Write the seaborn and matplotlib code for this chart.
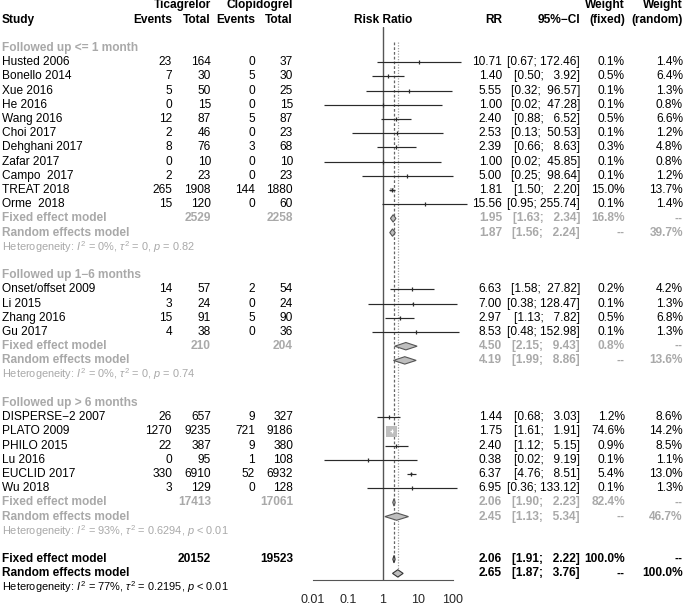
import numpy as np
import pandas as pd
import matplotlib
matplotlib.use("Agg")
import matplotlib.pyplot as plt
import seaborn as sns

# ---------------------------------------------------------
# data
# ---------------------------------------------------------
subgroups = ["Followed up <= 1 month", "Followed up 1\u22126 months", "Followed up > 6 months"]

studies = ["Husted 2006", "Bonello 2014", "Xue 2016", "He 2016", "Wang 2016", "Choi 2017",
           "Dehghani 2017", "Zafar 2017", "Campo  2017", "TREAT 2018", "Orme  2018",
           "Onset/offset 2009", "Li 2015", "Zhang 2016", "Gu 2017",
           "DISPERSE\u22122 2007", "PLATO 2009", "PHILO 2015", "Lu 2016", "EUCLID 2017", "Wu 2018"]
group_idx = [0] * 11 + [1] * 4 + [2] * 6

tic_events = [23, 7, 5, 0, 12, 2, 8, 0, 2, 265, 15, 14, 3, 15, 4, 26, 1270, 22, 0, 330, 3]
tic_total = [164, 30, 50, 15, 87, 46, 76, 10, 23, 1908, 120, 57, 24, 91, 38, 657, 9235, 387, 95, 6910, 129]
clo_events = [0, 5, 0, 0, 5, 0, 3, 0, 0, 144, 0, 2, 0, 5, 0, 9, 721, 9, 1, 52, 0]
clo_total = [37, 30, 25, 15, 87, 23, 68, 10, 23, 1880, 60, 54, 24, 90, 36, 327, 9186, 380, 108, 6932, 128]

rr = [10.71, 1.40, 5.55, 1.00, 2.40, 2.53, 2.39, 1.00, 5.00, 1.81, 15.56,
      6.63, 7.00, 2.97, 8.53, 1.44, 1.75, 2.40, 0.38, 6.37, 6.95]
rr_lo = [0.67, 0.50, 0.32, 0.02, 0.88, 0.13, 0.66, 0.02, 0.25, 1.50, 0.95,
         1.58, 0.38, 1.13, 0.48, 0.68, 1.61, 1.12, 0.02, 4.76, 0.36]
rr_hi = [172.46, 3.92, 96.57, 47.28, 6.52, 50.53, 8.63, 45.85, 98.64, 2.20, 255.74,
         27.82, 128.47, 7.82, 152.98, 3.03, 1.91, 5.15, 9.19, 8.51, 133.12]
w_fixed = [0.1, 0.5, 0.1, 0.1, 0.5, 0.1, 0.3, 0.1, 0.1, 15.0, 0.1,
           0.2, 0.1, 0.5, 0.1, 1.2, 74.6, 0.9, 0.1, 5.4, 0.1]
w_random = [1.4, 6.4, 1.3, 0.8, 6.6, 1.2, 4.8, 0.8, 1.2, 13.7, 1.4,
            4.2, 1.3, 6.8, 1.3, 8.6, 14.2, 8.5, 1.1, 13.0, 1.3]

sub_tic_total = [2529, 210, 17413]
sub_clo_total = [2258, 204, 17061]
sub_fixed = [1.95, 4.50, 2.06]
sub_fixed_lo = [1.63, 2.15, 1.90]
sub_fixed_hi = [2.34, 9.43, 2.23]
sub_random = [1.87, 4.19, 2.45]
sub_random_lo = [1.56, 1.99, 1.13]
sub_random_hi = [2.24, 8.86, 5.34]
sub_w_fixed = [16.8, 0.8, 82.4]
sub_w_random = [39.7, 13.6, 46.7]
sub_het = [r"$I^2$ = 0%, $\tau^2$ = 0, $p$ = 0.82",
           r"$I^2$ = 0%, $\tau^2$ = 0, $p$ = 0.74",
           r"$I^2$ = 93%, $\tau^2$ = 0.6294, $p$ < 0.01"]

all_tic_total = 20152
all_clo_total = 19523
all_fixed, all_fixed_lo, all_fixed_hi = 2.06, 1.91, 2.22
all_random, all_random_lo, all_random_hi = 2.65, 1.87, 3.76
all_het = r"$I^2$ = 77%, $\tau^2$ = 0.2195, $p$ < 0.01"

x_ticks = [0.01, 0.1, 1, 10, 100]
x_tick_labels = ["0.01", "0.1", "1", "10", "100"]

# ---------------------------------------------------------
# style
# ---------------------------------------------------------
sns.set_style("white")
plt.rcParams['font.family'] = ['Liberation Sans', 'DejaVu Sans']
plt.rcParams['mathtext.fontset'] = 'custom'
plt.rcParams['mathtext.rm'] = 'Liberation Sans'
plt.rcParams['mathtext.it'] = 'Liberation Sans:italic'
plt.rcParams['mathtext.bf'] = 'Liberation Sans:bold'

FS = 8.6
FS_HET = 7.9
GREY_TXT = '#A9A9A9'
SQ_COL = '#BEBEBE'

W, H = 685, 607
ROW0, ROW_H = 48, 14.2          # pixel y of row 0, row height in px


def px_to_row(py):
    return (py - ROW0) / ROW_H


def fmt_ci(lo, hi):
    return f"[{lo:.2f}; {hi:6.2f}]"


def fmt_w(w):
    return "--" if w is None else f"{w:.1f}%"


# ---------------------------------------------------------
# row layout
# ---------------------------------------------------------
df = pd.DataFrame(dict(study=studies, group=group_idx, te=tic_events, tt=tic_total,
                       ce=clo_events, ct=clo_total, rr=rr, lo=rr_lo, hi=rr_hi,
                       wf=w_fixed, wr=w_random))
df['row'] = 0
sub_rows = []
r = 0
for g in range(len(subgroups)):
    head = r
    r += 1
    idx = df.index[df['group'] == g]
    df.loc[idx, 'row'] = np.arange(r, r + len(idx))
    r += len(idx)
    sub_rows.append((head, r, r + 1, r + 2))
    r += 4
all_rows = (r, r + 1, r + 2)

fig = plt.figure(figsize=(W / 100, H / 100), dpi=100)

# text layer, x in pixels, y in rows
tax = fig.add_axes([0, 0, 1, 1])
tax.set_xlim(0, W)
tax.set_ylim(px_to_row(H), px_to_row(0))
tax.axis('off')

X_STUDY, X_TE, X_TT, X_CE, X_CT = 2, 172, 211, 255, 293
X_RR, X_CI, X_WF, X_WR = 502, 580, 625, 683


def put(x, y, s, ha='right', color='black', weight='normal', size=FS):
    tax.text(x, y, s, ha=ha, va='center', color=color, fontweight=weight, fontsize=size)


# headers
put(X_TT, -3, "Ticagrelor", weight='bold')
put(X_CT, -3, "Clopidogrel", weight='bold')
put(X_STUDY, -2, "Study", ha='left', weight='bold')
for xx, lab in [(X_TE, "Events"), (X_TT, "Total"), (X_CE, "Events"), (X_CT, "Total")]:
    put(xx, -2, lab, weight='bold')
put(383, -2, "Risk Ratio", ha='center', weight='bold')
put(X_RR, -2, "RR", weight='bold')
put(X_CI, -2, "95%\u2212CI", weight='bold')
put(X_WF, -3, "Weight", weight='bold')
put(X_WF, -2, "(fixed)", weight='bold')
put(X_WR, -3, "Weight", weight='bold')
put(X_WR, -2, "(random)", weight='bold')

# study rows
for _, s in df.iterrows():
    y = s['row']
    put(X_STUDY, y, s['study'], ha='left')
    put(X_TE, y, str(s['te']))
    put(X_TT, y, str(s['tt']))
    put(X_CE, y, str(s['ce']))
    put(X_CT, y, str(s['ct']))
    put(X_RR, y, f"{s['rr']:.2f}")
    put(X_CI, y, fmt_ci(s['lo'], s['hi']))
    put(X_WF, y, fmt_w(s['wf']))
    put(X_WR, y, fmt_w(s['wr']))

# subgroup rows
for g, (head, rf, rrn, rh) in enumerate(sub_rows):
    put(X_STUDY, head, subgroups[g], ha='left', color=GREY_TXT, weight='bold')
    put(X_STUDY, rf, "Fixed effect model", ha='left', color=GREY_TXT, weight='bold')
    put(X_TT, rf, str(sub_tic_total[g]), color=GREY_TXT, weight='bold')
    put(X_CT, rf, str(sub_clo_total[g]), color=GREY_TXT, weight='bold')
    put(X_RR, rf, f"{sub_fixed[g]:.2f}", color=GREY_TXT, weight='bold')
    put(X_CI, rf, fmt_ci(sub_fixed_lo[g], sub_fixed_hi[g]), color=GREY_TXT, weight='bold')
    put(X_WF, rf, fmt_w(sub_w_fixed[g]), color=GREY_TXT, weight='bold')
    put(X_WR, rf, "--", color=GREY_TXT, weight='bold')
    put(X_STUDY, rrn, "Random effects model", ha='left', color=GREY_TXT, weight='bold')
    put(X_RR, rrn, f"{sub_random[g]:.2f}", color=GREY_TXT, weight='bold')
    put(X_CI, rrn, fmt_ci(sub_random_lo[g], sub_random_hi[g]), color=GREY_TXT, weight='bold')
    put(X_WF, rrn, "--", color=GREY_TXT, weight='bold')
    put(X_WR, rrn, fmt_w(sub_w_random[g]), color=GREY_TXT, weight='bold')
    put(X_STUDY, rh, "Heterogeneity: " + sub_het[g], ha='left', color=GREY_TXT, size=FS_HET)

# overall rows
af, ar, ah = all_rows
put(X_STUDY, af, "Fixed effect model", ha='left', weight='bold')
put(X_TT, af, str(all_tic_total), weight='bold')
put(X_CT, af, str(all_clo_total), weight='bold')
put(X_RR, af, f"{all_fixed:.2f}", weight='bold')
put(X_CI, af, fmt_ci(all_fixed_lo, all_fixed_hi), weight='bold')
put(X_WF, af, "100.0%", weight='bold')
put(X_WR, af, "--", weight='bold')
put(X_STUDY, ar, "Random effects model", ha='left', weight='bold')
put(X_RR, ar, f"{all_random:.2f}", weight='bold')
put(X_CI, ar, fmt_ci(all_random_lo, all_random_hi), weight='bold')
put(X_WF, ar, "--", weight='bold')
put(X_WR, ar, "100.0%", weight='bold')
put(X_STUDY, ah, "Heterogeneity: " + all_het, ha='left', size=FS_HET)

# ---------------------------------------------------------
# forest panel
# ---------------------------------------------------------
AX_L, AX_R, AX_T, AX_B = 313, 453, 27, 580
fax = fig.add_axes([AX_L / W, (H - AX_B) / H, (AX_R - AX_L) / W, (AX_B - AX_T) / H])
fax.patch.set_visible(False)
fax.set_xscale('log')
fax.set_xlim(0.01, 100)
fax.set_ylim(px_to_row(AX_B), px_to_row(AX_T))
for sp in ['top', 'left', 'right']:
    fax.spines[sp].set_visible(False)
fax.spines['bottom'].set_color('#555555')
fax.spines['bottom'].set_linewidth(0.8)
fax.set_yticks([])
fax.set_xticks(x_ticks)
fax.set_xticklabels(x_tick_labels, fontsize=FS + 0.4)
fax.minorticks_off()
fax.tick_params(axis='x', direction='out', length=5.5, width=0.8, color='#555555', pad=4.5)
fax.grid(False)

# reference lines
fax.axvline(1, color='#555555', lw=1.0, zorder=1)
top_r = -0.45
fax.vlines(all_fixed, top_r, af + 0.1, colors='#666666', linestyles=(0, (2.2, 1.6)), lw=0.9, zorder=1)
fax.vlines(all_random, top_r, ar + 0.25, colors='#A0A0A0', linestyles=(0, (1, 1.2)), lw=0.9, zorder=1)

# squares sized by fixed-effect weight
PX_DECADE = (AX_R - AX_L) / 4
side_px = 11 * np.sqrt(df['wf'] / df['wf'].max())
df['s'] = (side_px * 0.72) ** 2
sns.scatterplot(data=df, x='rr', y='row', marker='s', s=df['s'], color=SQ_COL,
                linewidth=0, legend=False, ax=fax, zorder=3, clip_on=False)
inside = (PX_DECADE * np.log10(df['hi'] / df['lo'])) < side_px
fax.set_xlabel('')
fax.set_ylabel('')

for i, s in df.iterrows():
    col = 'white' if inside[i] else '#2a2a2a'
    fax.hlines(s['row'], s['lo'], s['hi'], colors=col, lw=0.85, zorder=4, clip_on=False)
    fax.plot([s['rr']], [s['row']], marker='|', ms=3.5, mew=0.9, color=col,
             linestyle='none', zorder=5, clip_on=False)

DH = 0.26


def diamond(est, lo, hi, y, fc, ec):
    fax.fill([lo, est, hi, est], [y, y - DH, y, y + DH], facecolor=fc, edgecolor=ec,
             lw=0.8, zorder=6, clip_on=False)


for g, (head, rf, rrn, rh) in enumerate(sub_rows):
    diamond(sub_fixed[g], sub_fixed_lo[g], sub_fixed_hi[g], rf, SQ_COL, '#555555')
    diamond(sub_random[g], sub_random_lo[g], sub_random_hi[g], rrn, SQ_COL, '#555555')
diamond(all_fixed, all_fixed_lo, all_fixed_hi, af, SQ_COL, '#333333')
diamond(all_random, all_random_lo, all_random_hi, ar, SQ_COL, '#333333')

fig.savefig('out.png', dpi=100)
